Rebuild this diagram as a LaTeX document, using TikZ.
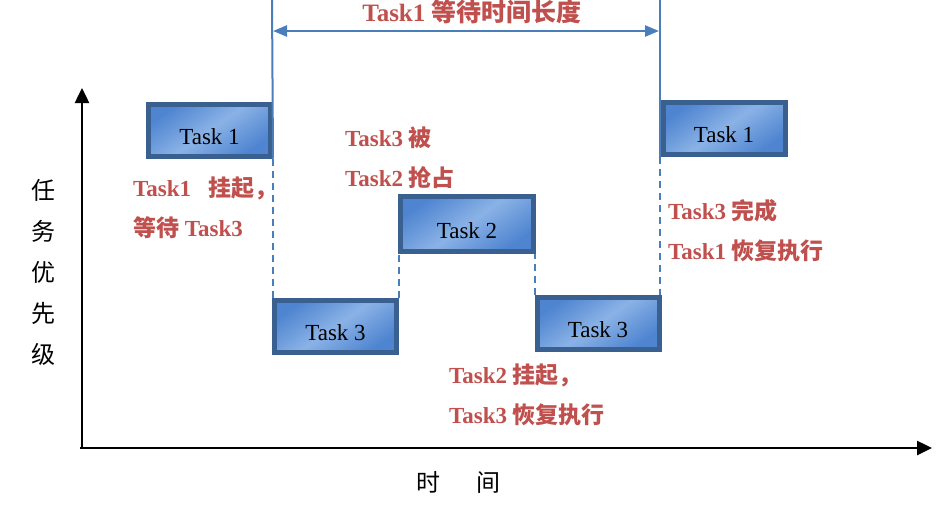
\documentclass[tikz,border=0pt]{standalone}
\usepackage{fontspec}
\setmainfont{Liberation Serif}
\newfontfamily\cjk{Noto Sans CJK SC}
\usetikzlibrary{arrows.meta,calc}

\definecolor{boxedge}{RGB}{58,96,144}
\definecolor{boxdark}{RGB}{78,132,208}
\definecolor{boxlight}{RGB}{138,178,230}
\definecolor{lineblue}{RGB}{74,126,187}
\definecolor{notered}{RGB}{192,80,77}

\begin{document}
\begin{tikzpicture}[x=1pt,y=-1pt,
	taskbox/.style={draw=boxedge,line width=5pt,minimum width=122pt,minimum height=52pt,
		inner sep=0pt,top color=boxdark,bottom color=boxdark,middle color=boxlight,
		shading angle=35,text height=28pt,text depth=0pt,font=\fontsize{23}{26}\selectfont},
	note/.style={anchor=west,align=left,inner sep=0pt,text=notered,
		font=\fontsize{23}{40}\selectfont\bfseries},
	axis/.style={line width=2.5pt,-{Triangle[length=15pt,width=14pt]}},
	edge/.style={draw=lineblue,line width=2pt},
	gap/.style={draw=lineblue,line width=2pt,dash pattern=on 7pt off 5pt}]
	\useasboundingbox (0,0) rectangle (947,504);
	% tasks
	\node[taskbox] (t1a) at (209.5,130) {Task 1};
	\node[taskbox] (t3a) at (335.5,326) {Task 3};
	\node[taskbox,minimum width=133pt,minimum height=55pt] (t2) at (467,224) {Task 2};
	\node[taskbox] (t3b) at (598,323.5) {Task 3};
	\node[taskbox] (t1b) at (724,128) {Task 1};
	% axes
	\coordinate (o) at (82,448);
	\coordinate (ytop) at (82,88);
	\coordinate (xend) at (932,448);
	\draw[axis] ($(o)+(-2,0)$) -- (xend);
	\draw[axis] (o) -- (ytop);
	\node[font=\fontsize{24}{41}\selectfont\cjk,align=center,inner sep=0pt] (ylab) at (43,272)
		{任\\务\\优\\先\\级};
	\node[font=\fontsize{24}{26}\selectfont\cjk,inner sep=0pt] (xlab) at (458,482)
		{时\hspace{36pt}间};
	% waiting time
	\coordinate (top1) at (272,0);
	\coordinate (top2) at (660,0);
	\draw[edge] (top1) -- (t1a.south east);
	\draw[edge] (top2) -- (top2 |- t1b.south);
	\draw[gap] (t1a.south east) -- (t1a.south east |- t3a.north);
	\draw[gap] (t3a.north east) -- (t3a.north east |- t2.south);
	\draw[gap] (t3b.north west) -- (t3b.north west |- t2.south);
	\draw[gap] (top2 |- t1b.south) -- (top2 |- t3b.north);
	\coordinate (w1) at (273,31);
	\coordinate (w2) at (659,31);
	\draw[edge,line width=2.5pt,{Triangle[length=14pt,width=11pt]}-{Triangle[length=14pt,width=11pt]}]
		(w1) -- (w2);
	\node[note,anchor=center,font=\fontsize{25}{30}\selectfont\bfseries] (wait) at (472,12)
		{Task1 {\cjk 等待时间长度}};
	% notes
	\node[note] (n1) at (133,208) {Task1\ \ \ {\cjk 挂起，}\\{\cjk 等待} Task3};
	\node[note] (n2) at (345,158) {Task3 {\cjk 被}\\Task2 {\cjk 抢占}};
	\node[note] (n3) at (668,230.5) {Task3 {\cjk 完成}\\Task1 {\cjk 恢复执行}};
	\node[note] (n4) at (449,394.5) {Task2 {\cjk 挂起，}\\Task3 {\cjk 恢复执行}};
\end{tikzpicture}
\end{document}
